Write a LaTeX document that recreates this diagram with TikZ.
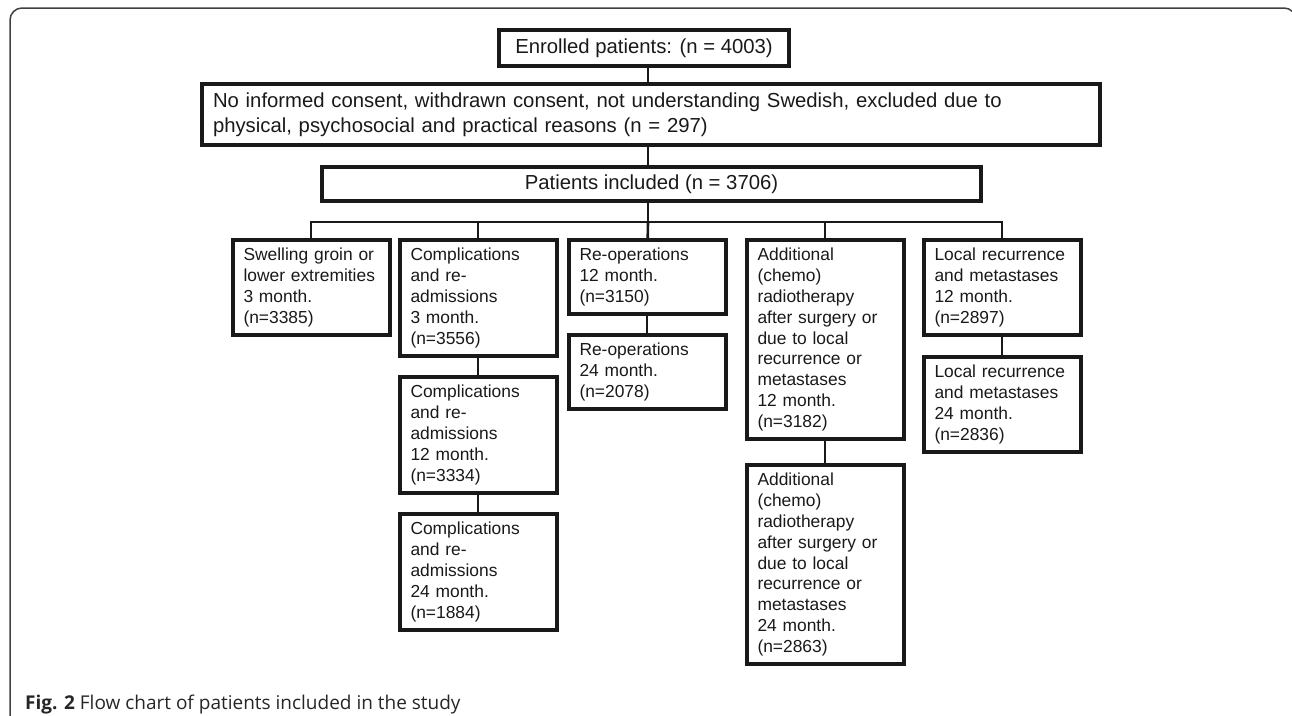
\documentclass[tikz,border=0pt]{standalone}
\usepackage{fontspec}
\setmainfont{Liberation Sans}
\newfontfamily\captionfont{Open Sans}

\begin{document}
\begin{tikzpicture}[x=1pt, y=-1pt, auto,
    flowbox/.style ={rectangle, draw=black!90, line width=4pt, inner sep=0pt,
                     text=black!90, font=\fontsize{20.3}{25}\selectfont},
    outcome/.style ={rectangle, draw=black!90, line width=4pt, anchor=north,
                     text width=135pt, align=left, inner xsep=11pt, inner ysep=8.3pt,
                     text=black!90, font=\fontsize{17.4}{20.8}\selectfont},
    link/.style ={line width=2.6pt, black!90}]
   \useasboundingbox (0,0) rectangle (1292,715);
   \draw[black!75, line width=1.5pt, rounded corners=12pt] (10,722) -- (10,8) -- (1296,8) -- (1296,722);
   % top of the chart
   \node[flowbox, minimum width=290pt, minimum height=36pt] (enrol) at (644,48) {Enrolled patients: (n = 4003)};
   \node[flowbox, minimum width=898pt, minimum height=61pt, text width=876pt, inner xsep=11pt, align=left] (excl) at (651,114.5)
      {No informed consent, withdrawn consent, not understanding Swedish, excluded due to\\
       physical, psychosocial and practical reasons (n = 297)};
   \node[flowbox, minimum width=659pt, minimum height=34pt] (incl) at (651.5,184) {Patients included (n = 3706)};
   \coordinate (bar) at (648,222);
   % outcome columns
   \node[outcome] (swell) at (311,238) {Swelling groin or\\lower extremities\\3 month.\\(n=3385)};
   \node[outcome] (compA) at (478,238) {Complications\\and re-\\admissions\\3 month.\\(n=3556)};
   \node[outcome] (compB) at (478,375) {Complications\\and re-\\admissions\\12 month.\\(n=3334)};
   \node[outcome] (compC) at (478,512) {Complications\\and re-\\admissions\\24 month.\\(n=1884)};
   \node[outcome] (reopA) at (647,238) {Re-operations\\12 month.\\(n=3150)};
   \node[outcome] (reopB) at (647,333) {Re-operations\\24 month.\\(n=2078)};
   \node[outcome] (radA) at (825,238) {Additional\\(chemo)\\radiotherapy\\after surgery or\\due to local\\recurrence or\\metastases\\12 month.\\(n=3182)};
   \node[outcome] (radB) at (825,463) {Additional\\(chemo)\\radiotherapy\\after surgery or\\due to local\\recurrence or\\metastases\\24 month.\\(n=2863)};
   \node[outcome] (locA) at (1002,238) {Local recurrence\\and metastases\\12 month.\\(n=2897)};
   \node[outcome] (locB) at (1002,355) {Local recurrence\\and metastases\\24 month.\\(n=2836)};
   % connectors
   \draw[link] (enrol.south -| bar) to (excl.north -| bar);
   \draw[link] (excl.south -| bar) to (incl.north -| bar);
   \draw[link] (incl.south -| bar) to (bar);
   \draw[link] (bar) -| (swell);
   \draw[link] (bar) -| (compA);
   \draw[link] (bar) to (reopA);
   \draw[link] (bar) -| (radA);
   \draw[link] (bar) -| (locA);
   \draw[link] (compA) to (compB);
   \draw[link] (compB) to (compC);
   \draw[link] (reopA) to (reopB);
   \draw[link] (radA) to (radB);
   \draw[link] (locA) to (locB);
   \node[anchor=base west, inner sep=0pt, text=black!85, font=\captionfont\fontsize{19}{22}\selectfont] (caption) at (25,709)
      {\textbf{Fig. 2} Flow chart of patients included in the study};
\end{tikzpicture}
\end{document}
